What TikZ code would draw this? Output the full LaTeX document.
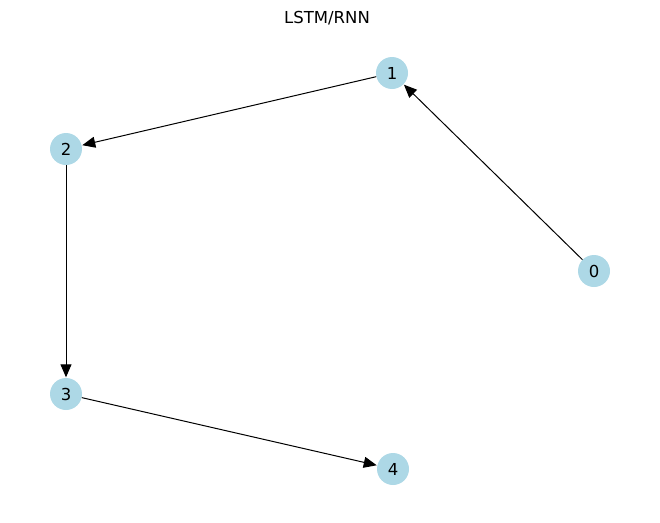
\documentclass[tikz,border=0pt]{standalone}
\usepackage{fontspec}
\setmainfont{DejaVu Sans}
\usetikzlibrary{arrows.meta}

\begin{document}
\begin{tikzpicture}[
  x=1pt, y=-1pt,
  vertex/.style={circle, fill={rgb,255:red,173;green,216;blue,230}, minimum size=32pt, inner sep=0pt, font=\fontsize{16.5}{18}\selectfont},
  edge/.style={-{Triangle[length=13pt,width=11pt]}, line width=1pt, shorten >=0.5pt}
]
\useasboundingbox (0,0) rectangle (660,522);

% title
\node[font=\fontsize{16.5}{18}\selectfont] (title) at (327,18) {LSTM/RNN};

% vertices
\node[vertex] (n0) at (594,271) {0};
\node[vertex] (n1) at (392,73) {1};
\node[vertex] (n2) at (66,149) {2};
\node[vertex] (n3) at (66,394) {3};
\node[vertex] (n4) at (393,469) {4};

% edges
\draw[edge] (n0) -- (n1);
\draw[edge] (n1) -- (n2);
\draw[edge] (n2) -- (n3);
\draw[edge] (n3) -- (n4);

\end{tikzpicture}
\end{document}
